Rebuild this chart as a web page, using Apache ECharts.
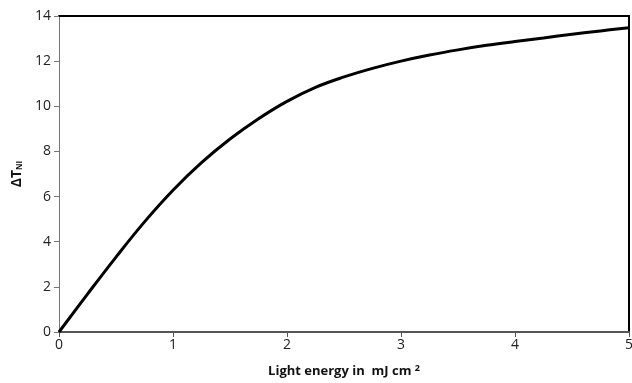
<!DOCTYPE html>
<html>
<head>
<meta charset="utf-8">
<script src="https://cdn.jsdelivr.net/npm/echarts@6/dist/echarts.min.js"></script>
<style>html,body{margin:0;padding:0;background:#fff}#c{width:632px;height:383px}</style>
</head>
<body>
<div id="c"></div>
<script>
const energy = [0, 0.25, 0.5, 0.75, 1.0, 1.25, 1.5, 1.75, 2.0, 2.25, 2.5, 2.75, 3.0, 3.25, 3.5, 3.75, 4.0, 4.25, 4.5, 4.75, 5.0];
const deltaT = [0, 1.68, 3.32, 4.88, 6.28, 7.5, 8.55, 9.45, 10.22, 10.84, 11.3, 11.68, 12.0, 12.27, 12.5, 12.7, 12.87, 13.03, 13.19, 13.34, 13.48];
const xTicks = [0, 1, 2, 3, 4, 5];
const yTicks = [0, 2, 4, 6, 8, 10, 12, 14];

const chart = echarts.init(document.getElementById('c'));
const font = '"Open Sans", "Liberation Sans", sans-serif';
chart.setOption({
  animation: false,
  grid: {left: 59, right: 3, top: 16, bottom: 51, outerBoundsMode: 'none', containLabel: false},
  xAxis: [{
    type: 'value', min: xTicks[0], max: xTicks[xTicks.length - 1], interval: 1,
    axisLine: {show: true, lineStyle: {color: '#555', width: 2}},
    axisTick: {show: true, length: 5, lineStyle: {color: '#555'}},
    axisLabel: {color: '#222', fontSize: 14, fontFamily: font, margin: 6},
    splitLine: {show: false},
    name: '{a|Light energy in  mJ cm }{s|2}',
    nameLocation: 'middle', nameGap: 32,
    nameTextStyle: {
      rich: {
        a: {fontSize: 13, fontWeight: 'bold', color: '#111', fontFamily: font},
        s: {fontSize: 9, fontWeight: 'bold', color: '#111', fontFamily: font, verticalAlign: 'top', padding: [0, 0, 6, 0]}
      }
    }
  }, {
    type: 'value', position: 'top', min: 0, max: 5,
    axisLine: {show: true, onZero: false, lineStyle: {color: '#000', width: 2}},
    axisTick: {show: false}, axisLabel: {show: false}, splitLine: {show: false}
  }],
  yAxis: [{
    type: 'value', min: yTicks[0], max: yTicks[yTicks.length - 1], interval: 2,
    axisLine: {show: true, lineStyle: {color: '#777', width: 1}},
    axisTick: {show: true, length: 5, lineStyle: {color: '#777'}},
    axisLabel: {color: '#222', fontSize: 14, fontFamily: font, margin: 8},
    splitLine: {show: false},
    name: '{a|ΔT}{b|NI}',
    nameLocation: 'middle', nameGap: 32, nameRotate: 90,
    nameTextStyle: {
      rich: {
        a: {fontSize: 14, fontWeight: 'bold', color: '#111', fontFamily: font},
        b: {fontSize: 8, fontWeight: 'bold', color: '#111', fontFamily: font, verticalAlign: 'bottom', padding: [5, 0, 0, 0]}
      }
    }
  }, {
    type: 'value', position: 'right', min: 0, max: 14,
    axisLine: {show: true, onZero: false, lineStyle: {color: '#000', width: 2}},
    axisTick: {show: false}, axisLabel: {show: false}, splitLine: {show: false}
  }],
  series: [{
    type: 'line',
    data: energy.map((e, i) => [e, deltaT[i]]),
    smooth: 0.4,
    showSymbol: false,
    lineStyle: {color: '#000', width: 3}
  }]
});
</script>
</body>
</html>
